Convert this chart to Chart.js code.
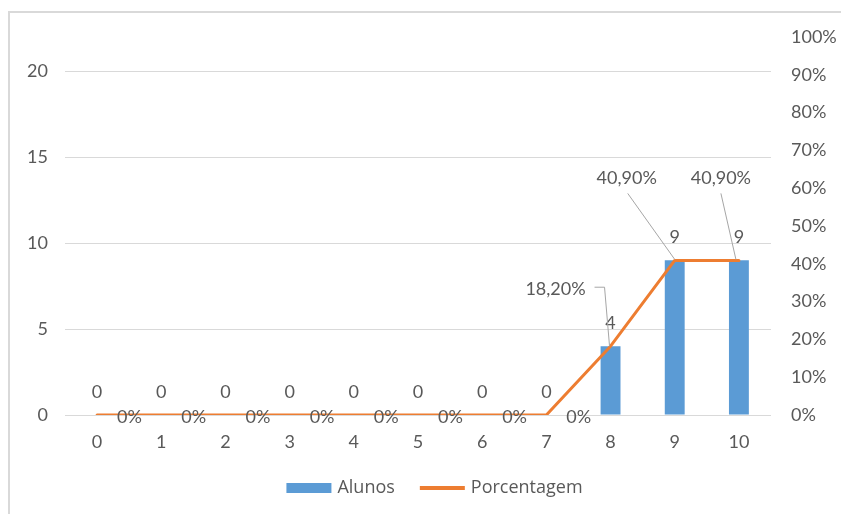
<!DOCTYPE html>
<html>
<head>
<meta charset="utf-8">
<script src="https://cdn.jsdelivr.net/npm/chart.js@4/dist/chart.umd.min.js"></script>
<style>
html,body{margin:0;padding:0;background:#fff;}
canvas{display:block;}
</style>
</head>
<body>
<canvas id="c" width="841" height="514"></canvas>
<script>
// ---- data ----
const categories = ['0','1','2','3','4','5','6','7','8','9','10'];
const alunos = [0,0,0,0,0,0,0,0,4,9,9];
const porcentagem = [0,0,0,0,0,0,0,0,18.2,40.9,40.9];
const leftTicks = [0,5,10,15,20];
const rightTicks = [0,10,20,30,40,50,60,70,80,90,100];
const seriesNames = ['Alunos','Porcentagem'];

// ---- style ----
const FONT = 'Lato, "Open Sans", sans-serif';
const LEGEND_FONT = '"Open Sans", Lato, sans-serif';
const TXT = '#595959';
const GRID = '#d9d9d9';
const BLUE = '#5B9BD5';
const ORANGE = '#ED7D31';

// label offsets (placement only) for labels with leader lines
const leaderLabels = {
  8: {tx:-55, ty:-57, path:[[-16,-59],[-6,-59],[-1,0]]},
  9: {tx:-48, ty:-82, path:[[-47,-67],[0,-1]]},
  10:{tx:-18, ty:-82, path:[[-18,-67],[-3,-1]]}
};

function fmtPct(v){
  return v === 0 ? '0%' : v.toFixed(2).replace('.', ',') + '%';
}

const borderPlugin = {
  id:'border',
  beforeDraw(chart){
    const ctx = chart.ctx;
    ctx.save();
    ctx.fillStyle = '#fff';
    ctx.fillRect(0,0,chart.width,chart.height);
    ctx.strokeStyle = GRID;
    ctx.lineWidth = 2;
    ctx.strokeRect(9, 12, chart.width + 20, chart.height + 20);
    ctx.restore();
  }
};

const labelPlugin = {
  id:'labels',
  afterDatasetsDraw(chart){
    const ctx = chart.ctx;
    ctx.save();
    ctx.font = '18px ' + FONT;
    ctx.fillStyle = TXT;
    ctx.textBaseline = 'middle';
    const barMeta = chart.getDatasetMeta(0);
    ctx.textAlign = 'center';
    barMeta.data.forEach((bar,i)=>{
      ctx.fillText(String(alunos[i]), bar.x, bar.y - 23);
    });
    const lineMeta = chart.getDatasetMeta(1);
    lineMeta.data.forEach((pt,i)=>{
      const txt = fmtPct(porcentagem[i]);
      const o = leaderLabels[i];
      if (o){
        ctx.strokeStyle = '#a6a6a6';
        ctx.lineWidth = 1;
        ctx.beginPath();
        o.path.forEach((p,k)=>{
          if(k===0) ctx.moveTo(pt.x+p[0], pt.y+p[1]); else ctx.lineTo(pt.x+p[0], pt.y+p[1]);
        });
        ctx.stroke();
        ctx.textAlign = 'center';
        ctx.fillText(txt, pt.x + o.tx, pt.y + o.ty);
      } else {
        ctx.textAlign = 'left';
        ctx.fillText(txt, pt.x + 20, pt.y + 2);
      }
    });
    ctx.restore();
  }
};

// legend drawn below the axis (Excel-like spacing)
const legendPlugin = {
  id:'xlLegend',
  afterDraw(chart){
    const ctx = chart.ctx;
    ctx.save();
    ctx.font = '18px ' + LEGEND_FONT;
    ctx.textBaseline = 'middle';
    ctx.textAlign = 'left';
    const boxW = 45, gap = 6, between = 25, cy = 488;
    const w0 = ctx.measureText(seriesNames[0]).width;
    const w1 = ctx.measureText(seriesNames[1]).width;
    const total = boxW + gap + w0 + between + boxW + gap + w1;
    let x = chart.width/2 + 14 - total/2;
    const ds = chart.data.datasets;
    ctx.fillStyle = ds[0].backgroundColor;
    ctx.fillRect(x, cy - 5, boxW, 10);
    x += boxW + gap;
    ctx.fillStyle = TXT;
    ctx.fillText(seriesNames[0], x, cy);
    x += w0 + between;
    ctx.strokeStyle = ds[1].borderColor;
    ctx.lineWidth = 4;
    ctx.beginPath();
    ctx.moveTo(x, cy); ctx.lineTo(x + boxW, cy);
    ctx.stroke();
    x += boxW + gap;
    ctx.fillStyle = TXT;
    ctx.fillText(seriesNames[1], x, cy);
    ctx.restore();
  }
};

new Chart(document.getElementById('c'), {
  data: {
    labels: categories,
    datasets: [
      {
        type:'bar', label:seriesNames[0], data: alunos, yAxisID:'y',
        backgroundColor: BLUE, barPercentage: 0.31, categoryPercentage: 1, order: 2
      },
      {
        type:'line', label:seriesNames[1], data: porcentagem, yAxisID:'y1',
        borderColor: ORANGE, borderWidth: 3, pointRadius: 0, tension: 0,
        borderCapStyle:'round', borderJoinStyle:'round', order: 1
      }
    ]
  },
  options: {
    responsive:false,
    animation:false,
    layout:{padding:{left:0,right:0,top:37,bottom:45}},
    plugins:{
      tooltip:{enabled:false},
      legend:{display:false}
    },
    scales:{
      x:{
        offset:true,
        grid:{display:false},
        border:{display:false},
        ticks:{color:TXT, font:{family:FONT,size:18}, padding:8, maxRotation:0},
        afterFit(s){ s.height = 54; }
      },
      y:{
        position:'left', min:0, max:22,
        afterBuildTicks(a){ a.ticks = leftTicks.map(v=>({value:v})); },
        grid:{color:GRID, lineWidth:1, drawTicks:false},
        border:{display:false},
        ticks:{color:TXT, font:{family:FONT,size:18}, padding:17},
        afterFit(s){ s.width = 65; }
      },
      y1:{
        position:'right', min:0, max:100,
        afterBuildTicks(a){ a.ticks = rightTicks.map(v=>({value:v})); },
        grid:{display:false, drawTicks:false},
        border:{display:false},
        ticks:{color:TXT, font:{family:FONT,size:18}, padding:20, callback:v=>v+'%'},
        afterFit(s){ s.width = 70; }
      }
    }
  },
  plugins:[borderPlugin, labelPlugin, legendPlugin]
});
</script>
</body>
</html>
